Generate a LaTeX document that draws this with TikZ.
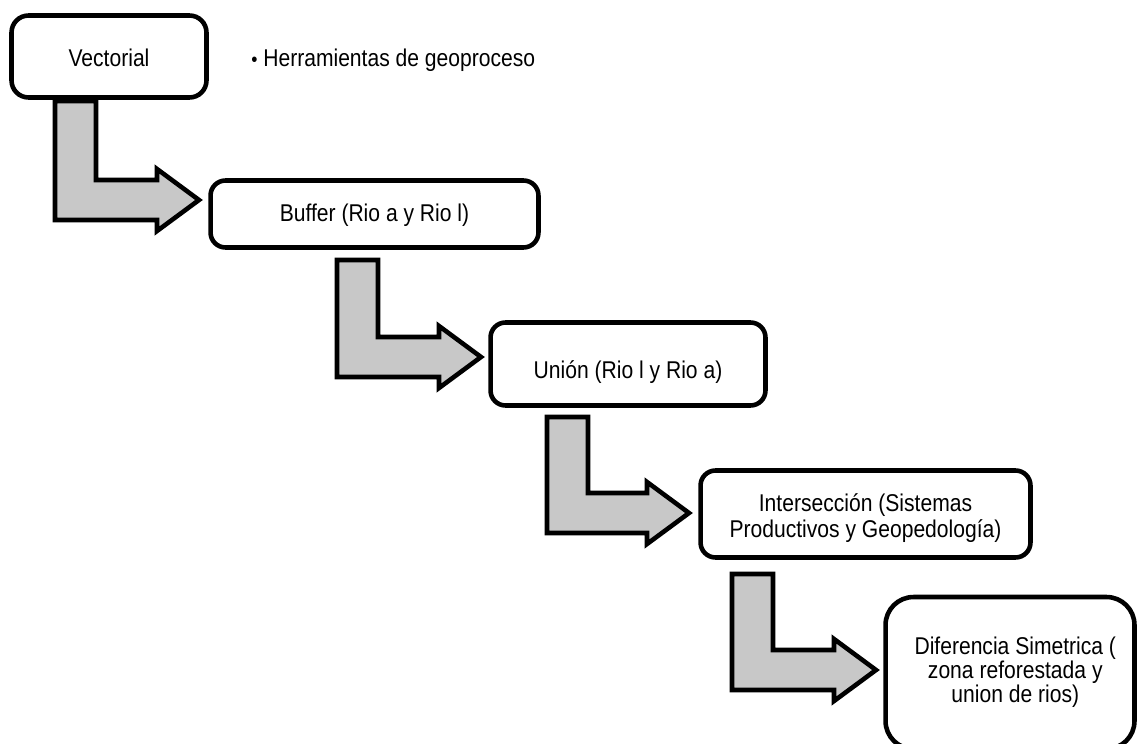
\documentclass[tikz,border=0pt]{standalone}
\usepackage{fontspec}
\usepackage{graphicx}
\setmainfont{Liberation Sans}
\usetikzlibrary{calc}
\definecolor{arrowgray}{RGB}{200,200,200}
\newcommand{\bentarrow}[2]{%
  \draw[barrow] (#1) -- ++(41,0) |- ($(#2)+(-42,-20)$) -- ($(#2)+(-42,-31)$) -- (#2)
    -- ($(#2)+(-42,31)$) -- ($(#2)+(-42,20)$) -| ($(#1)+(0,1)$) -- cycle;}
\newcommand{\stretchtext}[2][12.3pt]{\scalebox{1}[1.15]{\fontsize{12}{#1}\selectfont\begin{tabular}[t]{@{}c@{}}#2\end{tabular}}}
\begin{document}
\begin{tikzpicture}[x=0.02cm,y=-0.02cm,
  box/.style={draw=black, line width=2.6pt, rounded corners=0.3cm, fill=white,
    inner sep=0pt},
  barrow/.style={draw=black, line width=2.6pt, fill=arrowgray, line join=miter}]
\useasboundingbox (0,0) rectangle (1138,743);
\begin{scope}
\clip (0,0) rectangle (1138,743);
% boxes
\node[box, minimum width=3.9cm, minimum height=1.64cm, rounded corners=0.34cm,
  text height=11pt, text depth=0pt] (vec) at (109,56.5) {\stretchtext{Vectorial}};
\node[anchor=west, inner sep=0pt, text height=9.9pt, text depth=0pt] (herr) at (251,58)
  {\stretchtext{{\fontsize{10}{10}\selectfont\textbullet}\kern3.3pt Herramientas de geoproceso}};
\node[box, minimum width=6.56cm, minimum height=1.34cm,
  text height=8.2pt, text depth=0pt] (buf) at (374.5,214) {\stretchtext{Buffer (Rio a y Rio l)}};
\node[box, minimum width=5.5cm, minimum height=1.66cm,
  text height=16.2pt, text depth=0pt] (uni) at (628,364) {\stretchtext{Unión (Rio l y Rio a)}};
\node[box, minimum width=6.6cm, minimum height=1.74cm,
  text height=0pt, text depth=2.56pt] (int) at (865.5,514) {\stretchtext{Intersección (Sistemas\\Productivos y Geopedología)}};
\node[box, minimum width=4.98cm, minimum height=3.04cm, rounded corners=0.56cm,
  text height=0pt, text depth=21.5pt] (dif) at (1010,673) {\stretchtext[10.7pt]{\hspace{6pt}Diferencia Simetrica (\\\hspace{6pt}zona reforestada y\\\hspace{6pt}union de rios)}};
% arrow anchors
\coordinate (s1) at (55,101);  \coordinate (t1) at (199,200);
\coordinate (s2) at (337,260); \coordinate (t2) at (481,357);
\coordinate (s3) at (547,417); \coordinate (t3) at (689,513);
\coordinate (s4) at (732,574); \coordinate (t4) at (876,670);
\bentarrow{s1}{t1}
\bentarrow{s2}{t2}
\bentarrow{s3}{t3}
\bentarrow{s4}{t4}
\end{scope}
\end{tikzpicture}
\end{document}
